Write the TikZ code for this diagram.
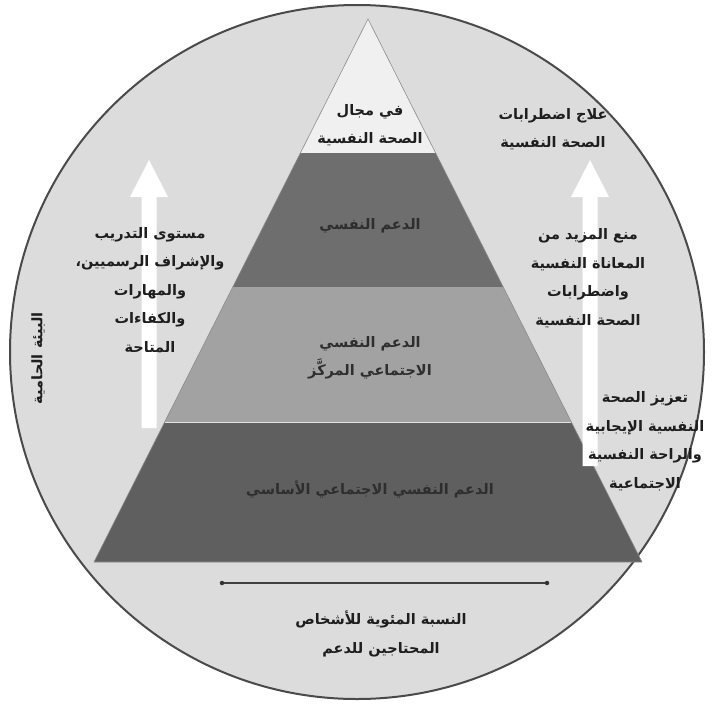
\documentclass[tikz,border=0pt]{standalone}
\usepackage{fontspec}
\TeXXeTstate=1
\newfontfamily\arabicfont[Script=Arabic]{DejaVu Sans}
\usetikzlibrary{calc}
\definecolor{circfill}{HTML}{DCDCDC}
\definecolor{circedge}{HTML}{4A4A4A}
\definecolor{bandA}{HTML}{F0F0F0}
\definecolor{bandB}{HTML}{6E6E6E}
\definecolor{bandC}{HTML}{A2A2A2}
\definecolor{bandD}{HTML}{5F5F5F}
\definecolor{txt}{HTML}{1E1E1E}
\definecolor{txtdark}{HTML}{2E2E2E}
\tikzset{
  lbl/.style={font=\arabicfont\bfseries\fontsize{14.5}{28.5}\selectfont, text=txt, align=center, inner sep=0pt},
  lbldark/.style={lbl, text=txtdark},
  blockarrow/.style={fill=white, draw=none},
  enddot/.style={circle, fill=black!80, inner sep=0pt, minimum size=4.5pt},
}
\newcommand{\ar}[1]{\beginR #1\endR}
\begin{document}
\begin{tikzpicture}[x=1pt,y=-1pt]
\useasboundingbox (0,0) rectangle (717,704);
% circle
\draw[fill=circfill, draw=circedge, line width=2pt] (357,352) circle[radius=347];
% pyramid geometry
\coordinate (apex) at (368,19);
\coordinate (bl) at (94,562);
\coordinate (br) at (642,562);
\path (apex) -- (bl) coordinate[pos=0.2469] (l1) coordinate[pos=0.4936] (l2) coordinate[pos=0.7422] (l3);
\path (apex) -- (br) coordinate[pos=0.2469] (r1) coordinate[pos=0.4936] (r2) coordinate[pos=0.7422] (r3);
\fill[bandA] (apex) -- (l1) -- (r1) -- cycle;
\fill[bandB] (l1) -- (l2) -- (r2) -- (r1) -- cycle;
\fill[bandC] (l2) -- (l3) -- (r3) -- (r2) -- cycle;
\fill[bandD] (l3) -- (bl) -- (br) -- (r3) -- cycle;
\draw[black!45, line width=0.6pt] (apex) -- (bl) -- (br) -- cycle;
\draw[white!80!gray, line width=0.8pt] (l3) -- (r3);
% block arrows
\fill[blockarrow] (149,160) -- (168,197) -- (156.5,197) -- (156.5,428) -- (141.5,428) -- (141.5,197) -- (130,197) -- cycle;
\fill[blockarrow] (590,160) -- (609,197) -- (597.5,197) -- (597.5,466) -- (582.5,466) -- (582.5,197) -- (571,197) -- cycle;
% horizontal line with dots
\node[enddot] (pl) at (222,583) {};
\node[enddot] (pr) at (547,583) {};
\draw[black!75, line width=1.2pt] (pl) -- (pr);
% pyramid texts
\node[lbl] (t1) at (370,125) {\ar{في مجال}\\\ar{الصحة النفسية}};
\node[lbldark] (t2) at (370,226) {\ar{الدعم النفسي}};
\node[lbldark] (t3) at (370,358) {\ar{الدعم النفسي}\\\ar{الاجتماعي المركَّز}};
\node[lbldark] (t4) at (370,489) {\ar{الدعم النفسي الاجتماعي الأساسي}};
% side texts
\node[lbl] (tl) at (150,290) {\ar{مستوى التدريب}\\\ar{والإشراف الرسميين،}\\\ar{والمهارات}\\\ar{والكفاءات}\\\ar{المتاحة}};
\node[lbl] (tr1) at (553,129) {\ar{علاج اضطرابات}\\\ar{الصحة النفسية}};
\node[lbl] (tr2) at (588,278) {\ar{منع المزيد من}\\\ar{المعاناة النفسية}\\\ar{واضطرابات}\\\ar{الصحة النفسية}};
\node[lbl] (tr3) at (645,441) {\ar{تعزيز الصحة}\\\ar{النفسية الإيجابية}\\\ar{والراحة النفسية}\\\ar{الاجتماعية}};
\node[lbl, rotate=90] (tv) at (38,358) {\ar{البيئة الحامية}};
\node[lbl] (tb) at (381,634) {\ar{النسبة المئوية للأشخاص}\\\ar{المحتاجين للدعم}};
\end{tikzpicture}
\end{document}
